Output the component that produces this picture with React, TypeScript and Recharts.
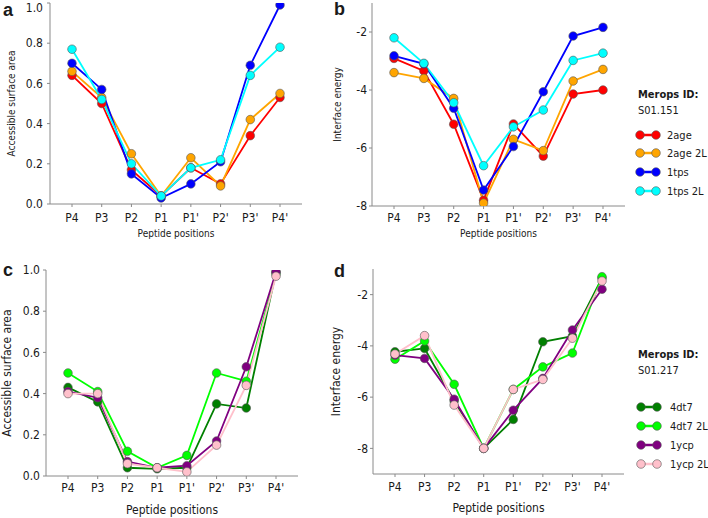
import React from 'react';
import { LineChart, Line, XAxis, YAxis } from 'recharts';

const positions = ["P4", "P3", "P2", "P1", "P1'", "P2'", "P3'", "P4'"];

// a: accessible surface area, S01.151
const asa2age = [0.64, 0.5, 0.17, 0.04, 0.18, 0.1, 0.34, 0.53];
const asa2age2L = [0.66, 0.53, 0.25, 0.04, 0.23, 0.09, 0.42, 0.55];
const asa1tps = [0.7, 0.57, 0.15, 0.03, 0.1, 0.21, 0.69, 0.99];
const asa1tps2L = [0.77, 0.52, 0.2, 0.04, 0.18, 0.22, 0.64, 0.78];

// b: interface energy, S01.151
const ie2age = [-2.91, -3.34, -5.18, -7.8, -5.17, -6.28, -4.14, -4.0];
const ie2age2L = [-3.4, -3.6, -4.29, -7.9, -5.7, -6.09, -3.69, -3.29];
const ie1tps = [-2.82, -3.1, -4.63, -7.45, -5.95, -4.06, -2.14, -1.84];
const ie1tps2L = [-2.2, -3.08, -4.44, -6.61, -5.27, -4.69, -2.98, -2.73];

// c: accessible surface area, S01.217
const asa4dt7 = [0.43, 0.36, 0.04, 0.035, 0.04, 0.35, 0.33, 0.99];
const asa4dt72L = [0.5, 0.41, 0.12, 0.04, 0.1, 0.5, 0.46, 0.98];
const asa1ycp = [0.41, 0.38, 0.07, 0.04, 0.05, 0.17, 0.53, 0.99];
const asa1ycp2L = [0.4, 0.4, 0.06, 0.04, 0.02, 0.15, 0.44, 0.97];

// d: interface energy, S01.217
const ie4dt7 = [-4.23, -4.1, -6.15, -8.0, -6.87, -3.84, -3.62, -1.35];
const ie4dt72L = [-4.52, -3.81, -5.5, -8.0, -5.7, -4.82, -4.28, -1.3];
const ie1ycp = [-4.36, -4.49, -6.08, -8.0, -6.51, -5.27, -3.38, -1.79];
const ie1ycp2L = [-4.32, -3.6, -6.31, -8.0, -5.7, -5.31, -3.7, -1.47];

const asaTicks = [0, 0.2, 0.4, 0.6, 0.8, 1.0];
const ieTicks = [-8, -6, -4, -2];
const ieMinor = [-8, -7, -6, -5, -4, -3, -2];

const namesTop = ['2age', '2age 2L', '1tps', '1tps 2L'];
const colorsTop = ['#ff0000', '#ffa500', '#0000ff', '#00ffff'];
const namesBottom = ['4dt7', '4dt7 2L', '1ycp', '1ycp 2L'];
const colorsBottom = ['#008000', '#00ff00', '#800080', '#ffc0cb'];

const frame = '#8a8a8a';
const ink = '#1a1a1a';
const font = "'DejaVu Sans Condensed', 'DejaVu Sans', sans-serif";

type PanelProps = {
  x: number; y: number; w: number; h: number;
  top: number; right: number; yw: number; xh: number;
  values: number[][]; colors: string[];
  domain: number[]; ticks: number[]; minor: number[];
  fmt: (v: number) => string;
  yLabel: string; yLabelX: number; yFont: number; yTickMargin: number;
  xTickMargin: number; xLabelOffset: number; titleFont: number;
};

function Panel(p: PanelProps) {
  const data = positions.map((pos, i) => {
    const row: any = { pos };
    p.values.forEach((v, k) => { row['s' + k] = v[i]; });
    return row;
  });
  return (
    <div style={{ position: 'absolute', left: p.x, top: p.y }}>
      <LineChart width={p.w} height={p.h} data={data} margin={{ top: p.top, right: p.right, left: 0, bottom: 0 }}>
        <XAxis dataKey="pos" height={p.xh} interval={0} padding={{ left: 22, right: 22 }}
          stroke={frame} tickSize={3} tickMargin={p.xTickMargin}
          tick={{ fill: ink, fontSize: 12, fontFamily: font }}
          label={{ value: 'Peptide positions', position: 'insideBottom', offset: p.xLabelOffset, fill: ink, fontSize: p.titleFont, fontFamily: font }} />
        <XAxis xAxisId="top" orientation="top" dataKey="pos" height={0} padding={{ left: 22, right: 22 }}
          stroke={frame} tick={false} tickLine={false} />
        <YAxis width={p.yw} domain={p.domain} ticks={p.ticks} type="number" allowDataOverflow
          stroke={frame} tickSize={3} tickMargin={p.yTickMargin} tickFormatter={p.fmt}
          tick={{ fill: ink, fontSize: p.yFont, fontFamily: font }}
          label={{ value: p.yLabel, angle: -90, position: 'insideLeft', offset: p.yLabelX, fill: ink, fontSize: p.titleFont, fontFamily: font, style: { textAnchor: 'middle' } }} />
        <YAxis yAxisId="r" orientation="right" width={0} domain={p.domain} ticks={p.minor} type="number"
          stroke={frame} tick={false} tickSize={4} mirror />
        {p.values.map((_, k) => (
          <Line key={k} dataKey={'s' + k} stroke={p.colors[k]} strokeWidth={1.8}
            dot={{ r: 4.3, fill: p.colors[k], stroke: '#555', strokeWidth: 0.6 }}
            isAnimationActive={false} />
        ))}
      </LineChart>
    </div>
  );
}

function Legend({ x, y, id, names, colors, rows, iconX, textX }: any) {
  return (
    <svg style={{ position: 'absolute', left: x, top: y }} width={78} height={140} fontFamily={font}>
      <text x={8} y={18} fontSize={11} fontWeight="bold" fill={ink}>Merops ID:</text>
      <text x={8} y={34} fontSize={11} fill={ink}>{id}</text>
      {names.map((n: string, i: number) => (
        <g key={n}>
          <line x1={iconX} x2={iconX + 16} y1={rows[i]} y2={rows[i]} stroke={colors[i]} strokeWidth={2.5} />
          <circle cx={iconX} cy={rows[i]} r={4.3} fill={colors[i]} stroke="#555" strokeWidth={0.6} />
          <circle cx={iconX + 16} cy={rows[i]} r={4.3} fill={colors[i]} stroke="#555" strokeWidth={0.6} />
          <text x={textX} y={rows[i] + 4} fontSize={11} fill={ink}>{n}</text>
        </g>
      ))}
    </svg>
  );
}

const letter: React.CSSProperties = { position: 'absolute', fontFamily: "'Liberation Sans', Arial, sans-serif", fontWeight: 'bold', fontSize: 18, lineHeight: '18px', color: ink };

export default function App() {
  return (
    <div style={{ position: 'absolute', left: 0, top: 0, width: 708, height: 518, background: '#fff', overflow: 'hidden' }}>
      <Panel x={0} y={0} w={310} h={250} top={3} right={8} yw={50} xh={46}
        values={[asa2age, asa2age2L, asa1tps, asa1tps2L]} colors={colorsTop}
        domain={[0, 1]} ticks={asaTicks} minor={asaTicks} fmt={(v) => v.toFixed(1)}
        yLabel="Accessible surface area" yLabelX={11} yFont={12} yTickMargin={4}
        xTickMargin={6} xLabelOffset={13} titleFont={10} />
      <Panel x={320} y={0} w={310} h={250} top={3} right={5} yw={52} xh={44}
        values={[ie2age, ie2age2L, ie1tps, ie1tps2L]} colors={colorsTop}
        domain={[-8, -1]} ticks={ieTicks} minor={ieMinor} fmt={(v) => String(v)}
        yLabel="Interface energy" yLabelX={17} yFont={12} yTickMargin={2}
        xTickMargin={4} xLabelOffset={13} titleFont={10} />
      <Panel x={0} y={260} w={305} h={258} top={10} right={7} yw={46} xh={42}
        values={[asa4dt7, asa4dt72L, asa1ycp, asa1ycp2L]} colors={colorsBottom}
        domain={[0, 1]} ticks={asaTicks} minor={asaTicks} fmt={(v) => v.toFixed(1)}
        yLabel="Accessible surface area" yLabelX={7} yFont={12} yTickMargin={3}
        xTickMargin={4} xLabelOffset={4} titleFont={12} />
      <Panel x={320} y={260} w={310} h={258} top={9} right={6} yw={53} xh={44}
        values={[ie4dt7, ie4dt72L, ie1ycp, ie1ycp2L]} colors={colorsBottom}
        domain={[-9, -1]} ticks={ieTicks} minor={ieMinor} fmt={(v) => String(v)}
        yLabel="Interface energy" yLabelX={16} yFont={12} yTickMargin={2}
        xTickMargin={5} xLabelOffset={6} titleFont={12} />
      <Legend x={630} y={80} id="S01.151" names={namesTop} colors={colorsTop}
        rows={[55, 73, 92, 111]} iconX={10} textX={37} />
      <Legend x={630} y={340} id="S01.217" names={namesBottom} colors={colorsBottom}
        rows={[67, 86, 105, 124]} iconX={11} textX={40} />
      <div style={{ ...letter, left: 3, top: 1 }}>a</div>
      <div style={{ ...letter, left: 334, top: 0 }}>b</div>
      <div style={{ ...letter, left: 3, top: 261 }}>c</div>
      <div style={{ ...letter, left: 334, top: 262 }}>d</div>
    </div>
  );
}
